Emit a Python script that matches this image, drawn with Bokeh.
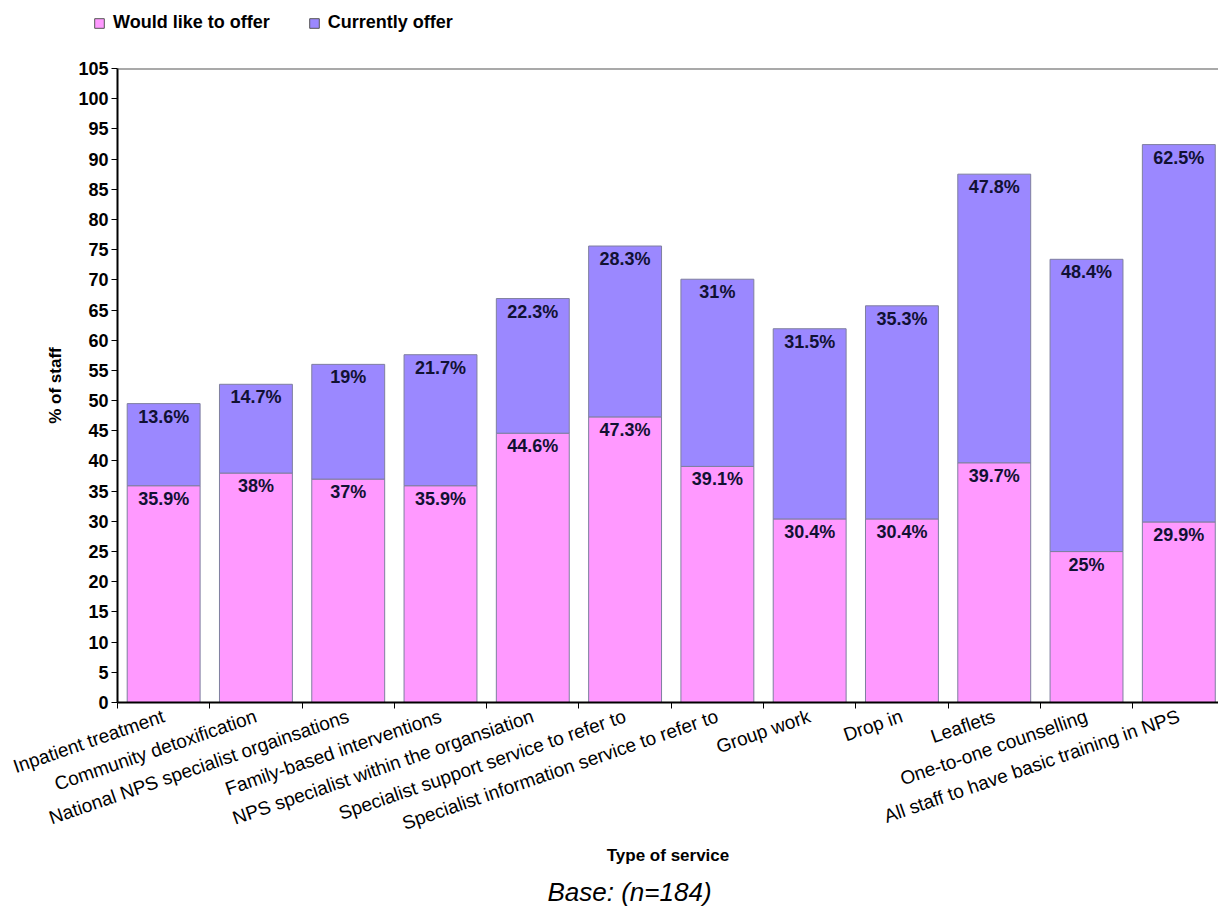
from bokeh.plotting import figure
from bokeh.layouts import column
from bokeh.models import (ColumnDataSource, Range1d, FixedTicker, Legend, LegendItem,
                          Title, Span)
from bokeh.core.properties import value
from bokeh.embed import file_html
from bokeh.resources import INLINE
import math

services = [
    "Inpatient treatment",
    "Community detoxification",
    "National NPS specialist orgainsations",
    "Family-based interventions",
    "NPS specialist within the organsiation",
    "Specialist support service to refer to",
    "Specialist information service to refer to",
    "Group work",
    "Drop in",
    "Leaflets",
    "One-to-one counselling",
    "All staff to have basic training in NPS",
]
would_like = [35.9, 38, 37, 35.9, 44.6, 47.3, 39.1, 30.4, 30.4, 39.7, 25, 29.9]
currently = [13.6, 14.7, 19, 21.7, 22.3, 28.3, 31, 31.5, 35.3, 47.8, 48.4, 62.5]
y_ticks = list(range(0, 106, 5))
series_names = ["Would like to offer", "Currently offer"]

PINK = "#FF99FF"
PURPLE = "#9B88FF"
EDGE = "#7F7F9F"
FONT = "Liberation Sans"
W = 1218
LEGEND_H = 50

centers = [i + 0.5 for i in range(len(services))]
tops = [a + b for a, b in zip(would_like, currently)]

src = ColumnDataSource(dict(
    x=centers,
    wl=would_like,
    cur=currently,
    top=tops,
    wl_lbl=[f"{v:g}%" for v in would_like],
    cur_lbl=[f"{v:g}%" for v in currently],
))

p = figure(width=W, height=913 - LEGEND_H, output_backend="svg", toolbar_location=None,
           x_range=Range1d(0, 11.93), y_range=Range1d(0, 105),
           min_border_left=117, min_border_right=0, min_border_top=18,
           min_border_bottom=209)
p.outline_line_color = None
p.xgrid.grid_line_color = None
p.ygrid.grid_line_color = None
p.background_fill_color = "white"

p.vbar(x="x", bottom=0, top="wl", width=0.79, source=src,
       fill_color=PINK, line_color=EDGE, line_width=1)
p.vbar(x="x", bottom="wl", top="top", width=0.79, source=src,
       fill_color=PURPLE, line_color=EDGE, line_width=1)

# value labels just inside the top of each segment
for col, ycol in (("wl_lbl", "wl"), ("cur_lbl", "top")):
    p.text(x="x", y=ycol, text=col, source=src, text_align="center",
           text_baseline="middle", y_offset=13,
           text_font=value(FONT), text_font_style="bold",
           text_font_size="18px", text_color="#111133")

# top border of the plot area
p.add_layout(Span(location=105, dimension="width", line_color="#555555",
                  line_width=2))

# y axis
ya = p.yaxis[0]
ya.ticker = FixedTicker(ticks=y_ticks)
ya.axis_line_color = "black"
ya.axis_line_width = 2
ya.major_tick_out = 6
ya.major_tick_in = 0
ya.minor_tick_line_color = None
ya.major_label_standoff = 3
ya.major_label_text_font = FONT
ya.major_label_text_font_style = "bold"
ya.major_label_text_font_size = "18px"
ya.major_label_text_color = "black"
ya.axis_label = "% of staff"
ya.axis_label_text_font = FONT
ya.axis_label_text_font_style = "bold"
ya.axis_label_text_font_size = "17px"
ya.axis_label_text_color = "black"
ya.axis_label_standoff = 10

# x axis: labels at category centres, tick marks at category boundaries
xa = p.xaxis[0]
xa.ticker = FixedTicker(ticks=centers, minor_ticks=list(range(len(services) + 1)))
xa.major_label_overrides = {c: s for c, s in zip(centers, services)}
xa.axis_line_color = "black"
xa.axis_line_width = 2
xa.major_tick_out = 0
xa.major_tick_in = 0
xa.minor_tick_out = 6
xa.minor_tick_in = 0
xa.minor_tick_line_color = "black"
xa.major_label_orientation = math.radians(19)
xa.major_label_standoff = 7
xa.major_label_text_font = FONT
xa.major_label_text_font_size = "19px"
xa.major_label_text_color = "black"
xa.axis_label = "Type of service"
xa.axis_label_text_font = FONT
xa.axis_label_text_font_style = "bold"
xa.axis_label_text_font_size = "17px"
xa.axis_label_text_color = "black"
xa.axis_label_standoff = -1

p.add_layout(Title(text="Base: (n=184)", align="left", offset=430,
                   text_font=FONT, text_font_style="italic",
                   text_font_size="26px", text_color="black",
                   standoff=14), "below")

# legend strip above the chart
lf = figure(width=W, height=LEGEND_H, output_backend="svg", toolbar_location=None,
            x_range=Range1d(0, 1), y_range=Range1d(0, 1),
            min_border=0, outline_line_color=None)
lf.frame_align = False
lf.axis.visible = False
lf.grid.visible = False
# key swatches (their bars sit outside the visible range; only the legend shows)
keys = ColumnDataSource(dict(x=[5], top=[1]))
key_pink = lf.vbar(x="x", top="top", width=0.1, source=keys,
                   fill_color=PINK, line_color="#555555", line_width=1)
key_purple = lf.vbar(x="x", top="top", width=0.1, source=keys,
                     fill_color=PURPLE, line_color="#555555", line_width=1)
legend = Legend(items=[LegendItem(label=series_names[0], renderers=[key_pink]),
                       LegendItem(label=series_names[1], renderers=[key_purple])],
                orientation="horizontal", location=(93, 17))
legend.background_fill_alpha = 0
legend.border_line_color = None
legend.padding = 0
legend.margin = 0
legend.spacing = 38
legend.glyph_width = 12
legend.glyph_height = 12
legend.label_standoff = 8
legend.label_text_font = FONT
legend.label_text_font_style = "bold"
legend.label_text_font_size = "18px"
legend.label_text_color = "black"
lf.add_layout(legend)

page = column(lf, p, spacing=0)
open("out.html", "w").write(file_html(page, INLINE))
